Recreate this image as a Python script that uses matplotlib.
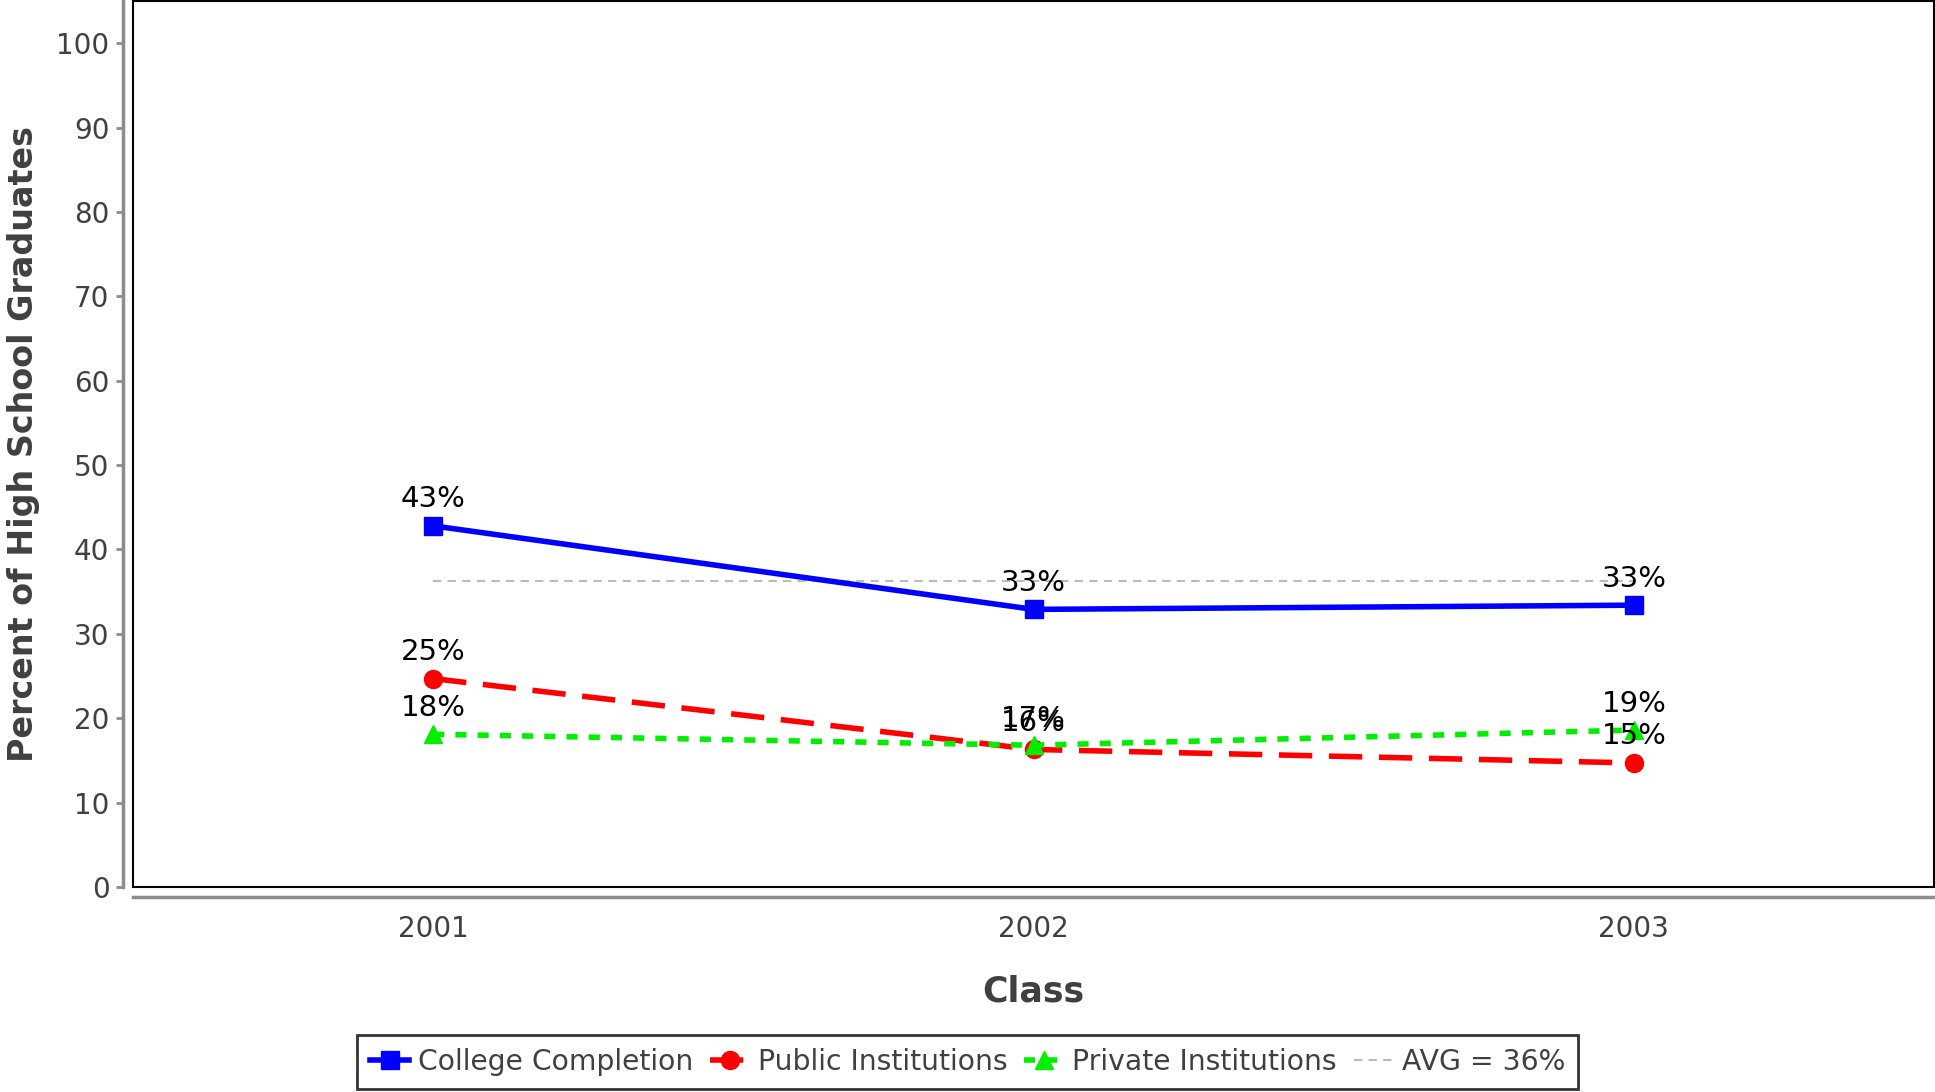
import matplotlib
matplotlib.use("Agg")
import matplotlib.pyplot as plt
from matplotlib.patches import Rectangle

# data
classes = ["2001", "2002", "2003"]
college = [42.8, 32.9, 33.4]
public = [24.7, 16.3, 14.7]
private = [18.1, 16.8, 18.6]
college_lbl = ["43%", "33%", "33%"]
public_lbl = ["25%", "16%", "15%"]
private_lbl = ["18%", "17%", "19%"]
avg_value = 36.3
avg_label = "AVG = 36%"

TXT = "#404040"
SPINE = "#8c8c8c"

plt.rcParams["font.family"] = ["DejaVu Sans"]

fig = plt.figure(figsize=(19.35, 10.92), dpi=100)
ax = fig.add_axes([133 / 1935, 205 / 1092, 1801 / 1935, 886 / 1092])

x = list(range(len(classes)))

ax.plot(x, college, color="#0000ff", lw=4, marker="s", ms=13,
        label="College Completion", zorder=4)
ax.plot(x, public, color="#ff0000", lw=4, ls=(0, (6, 3)), marker="o", ms=13,
        label="Public Institutions", zorder=3)
ax.plot(x, private, color="#00ee00", lw=4, ls=(0, (2, 2)), marker="^", ms=13,
        label="Private Institutions", zorder=3)
ax.plot([x[0], x[-1]], [avg_value, avg_value], color="#bbbbbb", lw=1.5,
        ls=(0, (4, 3)), label=avg_label, zorder=2)

for series, labels in ((college, college_lbl), (public, public_lbl), (private, private_lbl)):
    for xi, yi, t in zip(x, series, labels):
        ax.annotate(t, (xi, yi), xytext=(0, 9), textcoords="offset points",
                    ha="center", va="bottom", fontsize=21, color="black", zorder=5)

ax.set_xlim(-0.5, 2.5)
ax.set_ylim(0, 105)
ax.set_xticks(x)
ax.set_xticklabels(classes)
ax.set_yticks(range(0, 101, 10))

ax.tick_params(axis="x", length=0, pad=13, labelsize=20, labelcolor=TXT)
ax.tick_params(axis="y", length=5, width=2, color=SPINE, pad=5,
               labelsize=20, labelcolor=TXT)

for side in ("top", "right"):
    ax.spines[side].set_visible(False)
for side in ("left", "bottom"):
    ax.spines[side].set_position(("outward", 7))
    ax.spines[side].set_color(SPINE)
    ax.spines[side].set_linewidth(2.5)

ax.add_patch(Rectangle((0, 0), 1, 1, transform=ax.transAxes, fill=False,
                       ec="black", lw=1.5, clip_on=False, zorder=6))

ax.set_xlabel("Class", fontsize=25, fontweight="bold", color=TXT, labelpad=23)
ax.set_ylabel("Percent of High School Graduates", fontsize=24,
              fontweight="bold", color=TXT, labelpad=12)

leg = fig.legend(loc="center", bbox_to_anchor=(0.5, 0.0275), ncol=4,
                 fontsize=20.3, frameon=True, fancybox=False, edgecolor="black",
                 handlelength=1.4, handletextpad=0.3, columnspacing=0.6,
                 borderpad=0.45)
leg.get_frame().set_linewidth(2)
for t in leg.get_texts():
    t.set_color(TXT)

fig.savefig("out.png", dpi=100, facecolor="white")
